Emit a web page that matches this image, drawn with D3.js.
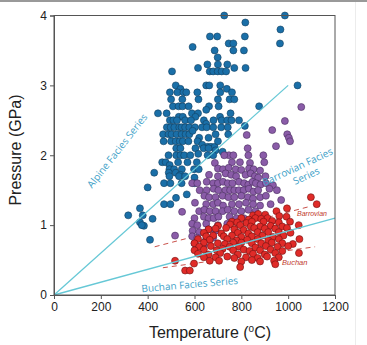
<!DOCTYPE html>
<html>
<head>
<meta charset="utf-8">
<script src="https://d3js.org/d3.v7.min.js"></script>
<style>
  html, body { margin: 0; padding: 0; background: #fff; }
  svg { display: block; }
</style>
</head>
<body>
<div id="chart"></div>
<script>
// ticks
const tempTicks = [0, 200, 400, 600, 800, 1000, 1200];
const pressTicks = [0, 1, 2, 3, 4];

// facies series reference lines [T, P]
const alpineLine = [[0, 0], [1000, 3.0]];
const buchanLine = [[0, 0], [1200, 1.1]];
const barrovianDash = [[430, 0.69], [1090, 1.265]];
const buchanDash = [[465, 0.39], [1115, 0.69]];

// blue points (high pressure)
const alpinePts = [
  [727,4.0],[986,4.0],[817,3.9],[967,3.8],[666,3.7],[697,3.7],[815,3.7],[746,3.6],[766,3.6],[965,3.6],
  [592,3.55],[686,3.5],[766,3.5],[811,3.5],[699,3.4],[655,3.3],[700,3.3],[740,3.3],[770,3.25],[615,3.25],
  [818,3.25],[504,3.2],[665,3.2],[680,3.2],[699,3.2],[716,3.2],[735,3.2],[520,3.0],[650,3.0],[663,3.0],
  [710,3.0],[1040,3.0],[540,2.95],[495,2.9],[527,2.9],[553,2.9],[565,2.9],[612,2.9],[710,2.9],[738,2.95],
  [760,2.9],[750,2.8],[770,2.8],[700,2.8],[617,2.8],[500,2.8],[548,2.8],[876,2.7],[508,2.7],[532,2.7],
  [549,2.7],[575,2.7],[662,2.7],[703,2.7],[650,2.65],[444,2.6],[481,2.6],[589,2.6],[615,2.6],[709,2.55],
  [754,2.6],[533,2.55],[550,2.55],[604,2.55],[640,2.5],[681,2.5],[495,2.5],[510,2.5],[525,2.5],[560,2.5],
  [585,2.5],[650,2.45],[716,2.5],[740,2.5],[758,2.5],[790,2.5],[482,2.4],[498,2.4],[514,2.4],[535,2.4],
  [545,2.4],[560,2.4],[578,2.4],[602,2.4],[632,2.4],[652,2.4],[680,2.4],[714,2.4],[742,2.4],[815,2.42],
  [466,2.3],[489,2.3],[502,2.3],[524,2.3],[545,2.3],[562,2.3],[578,2.3],[592,2.35],[620,2.25],[660,2.25],
  [690,2.3],[744,2.3],[468,2.2],[500,2.2],[520,2.2],[537,2.2],[550,2.2],[574,2.2],[613,2.2],[633,2.15],
  [656,2.12],[670,2.12],[686,2.12],[700,2.2],[522,2.1],[540,2.1],[604,2.1],[639,2.1],[660,2.1],[690,2.07],
  [720,2.05],[489,2.0],[522,2.0],[540,2.0],[556,2.0],[582,2.0],[616,2.02],[656,2.0],[680,2.0],[462,1.9],
  [477,1.9],[494,1.86],[530,1.9],[570,1.9],[610,1.9],[493,1.8],[513,1.8],[546,1.8],[598,1.8],[618,1.8],
  [428,1.75],[490,1.75],[520,1.75],[540,1.72],[493,1.7],[534,1.7],[560,1.7],[600,1.68],[470,1.6],[497,1.6],
  [545,1.6],[600,1.6],[400,1.54],[567,1.44],[521,1.39],[470,1.3],[497,1.3],[367,1.24],[317,1.14],[379,1.14],
  [421,1.09],[367,1.04],[384,0.99],[410,0.79],[375,1.0]
];

// purple points (barrovian)
const barrovianPts = [
  [1056,2.69],[986,2.49],[932,2.36],[996,2.3],[1003,2.25],[1008,2.2],[948,2.13],[823,2.29],[827,2.1],
  [747,2.0],[766,2.0],[830,2.0],[894,2.0],[727,2.0],
  [687,1.89],[794,1.9],[837,1.89],[898,1.9],[760,1.9],
  [700,1.81],[722,1.8],[746,1.82],[776,1.8],[800,1.79],[833,1.81],[852,1.8],[880,1.78],
  [662,1.72],[700,1.7],[733,1.74],[757,1.72],[778,1.7],[818,1.72],[840,1.74],[858,1.7],[872,1.68],[903,1.7],
  [590,1.6],[612,1.6],[652,1.62],[680,1.6],[700,1.6],[722,1.62],[742,1.6],[762,1.6],[790,1.62],[812,1.6],
  [830,1.58],[848,1.62],[862,1.6],[882,1.58],[905,1.6],[935,1.57],
  [622,1.5],[652,1.5],[682,1.52],[702,1.5],[732,1.5],[752,1.5],[770,1.5],[790,1.5],[810,1.5],[832,1.52],
  [852,1.48],[872,1.5],[920,1.52],[952,1.5],
  [642,1.42],[662,1.4],[690,1.4],[720,1.42],[745,1.4],[770,1.4],[800,1.42],[828,1.4],[850,1.38],[880,1.4],
  [905,1.42],[970,1.36],
  [602,1.32],[650,1.3],[680,1.3],[700,1.32],[722,1.28],[760,1.3],[790,1.3],[820,1.32],[850,1.3],[880,1.28],[925,1.3],
  [547,1.19],[620,1.2],[642,1.22],[665,1.2],[690,1.2],[720,1.2],[742,1.22],[770,1.2],[800,1.2],[830,1.22],[860,1.2],
  [600,1.1],[640,1.12],[660,1.1],[682,1.1],[702,1.12],[750,1.12],[780,1.1],[810,1.1],
  [590,1.02],[612,1.0],[650,1.02],[700,1.0],[740,1.02],
  [592,0.92],[620,0.9],[660,0.94],[690,0.92],
  [517,0.85],[590,0.84],[612,0.82],[650,0.8],[680,0.82],
  [600,0.74],[640,0.72]
];

// red points (buchan / low pressure)
const buchanPts = [
  [1097,1.4],[1122,1.3],[950,1.2],[995,1.24],
  [850,1.14],[872,1.16],[902,1.15],[962,1.13],[993,1.12],
  [800,1.1],[832,1.08],[860,1.1],[885,1.09],[912,1.1],[1008,1.05],
  [760,1.05],[782,1.04],[822,1.03],[845,1.05],[895,1.05],[932,1.06],[960,1.04],
  [700,0.99],[752,1.01],[795,1.0],[840,0.98],[880,0.98],[925,0.99],[975,0.98],[1045,1.0],
  [660,0.94],[690,0.95],[735,0.96],[770,0.94],[810,0.93],[855,0.96],[900,0.95],[945,0.95],[995,0.96],
  [640,0.89],[715,0.88],[785,0.89],[830,0.88],[870,0.9],[915,0.9],[960,0.9],[1010,0.89],
  [650,0.84],[680,0.85],[725,0.84],[760,0.85],[800,0.83],[845,0.84],[890,0.85],[935,0.83],[980,0.85],
  [615,0.8],[665,0.79],[740,0.8],[780,0.78],[825,0.79],[870,0.8],[915,0.78],[960,0.8],[1048,0.8],
  [600,0.74],[640,0.75],[700,0.74],[730,0.73],[765,0.75],[800,0.75],[845,0.74],[885,0.74],[930,0.75],[975,0.74],[1020,0.73],
  [620,0.69],[670,0.7],[750,0.69],[790,0.69],[860,0.68],[905,0.7],[955,0.69],[1000,0.7],
  [600,0.64],[640,0.65],[695,0.64],[720,0.66],[765,0.64],[810,0.65],[835,0.63],[880,0.64],[925,0.65],[975,0.63],
  [615,0.59],[660,0.58],[710,0.6],[785,0.58],[850,0.59],[900,0.58],[945,0.6],[1046,0.6],
  [640,0.54],[690,0.54],[740,0.55],[770,0.53],[820,0.54],[870,0.53],[910,0.55],[960,0.54],
  [665,0.49],[705,0.49],[800,0.48],[845,0.5],[880,0.48],[940,0.49],
  [598,0.45],[945,0.44],[795,0.4],[560,0.35],[580,0.35],[517,0.49]
];

const width = 367, height = 345;
const svg = d3.select("#chart").append("svg")
  .attr("width", width)
  .attr("height", height);

// screenshot frame bits
svg.append("line").attr("x1", 0).attr("x2", width).attr("y1", 1).attr("y2", 1)
  .attr("stroke", "#999").attr("stroke-width", 2);
svg.append("line").attr("x1", 355.5).attr("x2", 355.5).attr("y1", 2).attr("y2", height)
  .attr("stroke", "#ececec").attr("stroke-width", 1);

const x = d3.scaleLinear().domain([0, 1200]).range([54, 335]);
const y = d3.scaleLinear().domain([0, 4]).range([295, 15.5]);

const line = d3.line().x(d => x(d[0])).y(d => y(d[1]));

// red dashed guides (under the dots)
[barrovianDash, buchanDash].forEach(d => {
  svg.append("path").attr("d", line(d))
    .attr("fill", "none").attr("stroke", "#c9514a")
    .attr("stroke-width", 1).attr("stroke-dasharray", "5,4");
});

function drawDots(data, fill, stroke) {
  svg.append("g").selectAll("circle")
    .data(data)
    .enter().append("circle")
    .attr("cx", d => x(d[0]))
    .attr("cy", d => y(d[1]))
    .attr("r", 3.5)
    .attr("fill", fill)
    .attr("stroke", stroke)
    .attr("stroke-width", 0.6);
}
drawDots(alpinePts, "#1a6fa8", "#123f5f");
drawDots(barrovianPts, "#8a5ca8", "#4a2d60");
drawDots(buchanPts, "#e02b28", "#701010");

// cyan series lines over the dots
[alpineLine, buchanLine].forEach(d => {
  svg.append("path").attr("d", line(d))
    .attr("fill", "none").attr("stroke", "#66c8d6").attr("stroke-width", 1.3);
});

// frame
svg.append("rect")
  .attr("x", x(0)).attr("y", y(4))
  .attr("width", x(1200) - x(0)).attr("height", y(0) - y(4))
  .attr("fill", "none").attr("stroke", "#555").attr("stroke-width", 1);

const xAxis = svg.append("g")
  .attr("transform", `translate(0,${y(0)})`)
  .call(d3.axisBottom(x).tickValues(tempTicks).tickFormat(d3.format("d")).tickSize(4).tickPadding(3));
const yAxis = svg.append("g")
  .attr("transform", `translate(${x(0)},0)`)
  .call(d3.axisLeft(y).tickValues(pressTicks).tickFormat(d3.format("d")).tickSize(4).tickPadding(3));
[xAxis, yAxis].forEach(g => {
  g.selectAll("path.domain").attr("stroke", "#555");
  g.selectAll(".tick line").attr("stroke", "#555");
  g.selectAll("text").attr("fill", "#222")
    .style("font-family", "Liberation Sans, Arial, sans-serif").style("font-size", "12px");
});

// axis titles
const xt = svg.append("text")
  .attr("x", 210).attr("y", 338)
  .attr("text-anchor", "middle")
  .style("font-family", "Liberation Sans, Arial, sans-serif").style("font-size", "16px")
  .attr("fill", "#222");
xt.append("tspan").text("Temperature (");
xt.append("tspan").text("o").style("font-size", "10px").attr("dy", -6);
xt.append("tspan").text("C)").attr("dy", 6);

svg.append("text")
  .attr("transform", `translate(21,150) rotate(-90)`)
  .attr("text-anchor", "middle")
  .style("font-family", "Liberation Sans, Arial, sans-serif").style("font-size", "16px")
  .attr("fill", "#222")
  .text("Pressure (GPa)");

// series labels
const labFont = "Open Sans, Noto Sans, sans-serif";
svg.append("text")
  .attr("transform", "translate(120,153) rotate(-52)")
  .attr("text-anchor", "middle")
  .style("font-family", labFont).style("font-size", "10px")
  .attr("fill", "#3d9fc8")
  .text("Alpine Facies Series");

const bg = svg.append("g").attr("transform", "translate(299,170) rotate(-25)");
bg.append("text").attr("text-anchor", "middle")
  .style("font-family", labFont).style("font-size", "10px").attr("fill", "#3d9fc8")
  .text("Barrovian Facies");
bg.append("text").attr("x", 4).attr("y", 12).attr("text-anchor", "middle")
  .style("font-family", labFont).style("font-size", "10px").attr("fill", "#3d9fc8")
  .text("Series");

svg.append("text")
  .attr("transform", "translate(190,288) rotate(-5)")
  .attr("text-anchor", "middle")
  .style("font-family", labFont).style("font-size", "10px")
  .attr("fill", "#3d9fc8")
  .text("Buchan Facies Series");

svg.append("text")
  .attr("x", 297).attr("y", 216)
  .style("font-family", "Liberation Sans, Arial, sans-serif").style("font-size", "7px")
  .style("font-style", "italic").attr("fill", "#c0392b")
  .text("Barrovian");
svg.append("text")
  .attr("x", 282).attr("y", 265)
  .style("font-family", "Liberation Sans, Arial, sans-serif").style("font-size", "7.5px")
  .style("font-style", "italic").attr("fill", "#c0392b")
  .text("Buchan");
</script>
</body>
</html>
